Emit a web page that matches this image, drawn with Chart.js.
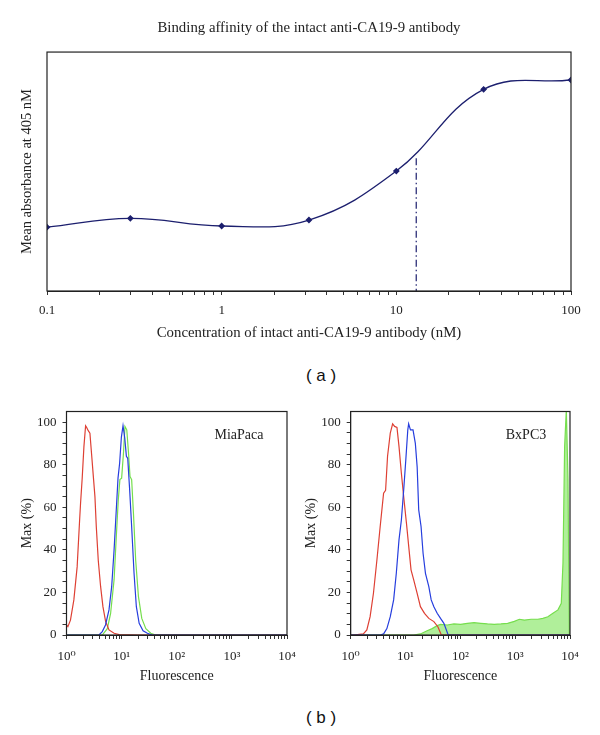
<!DOCTYPE html>
<html>
<head>
<meta charset="utf-8">
<script src="https://cdn.jsdelivr.net/npm/chart.js@4.4.1/dist/chart.umd.min.js"></script>
<style>
  body { margin: 0; background: #fff; }
  .box { position: absolute; }
  .panel-label { position: absolute; left: 0; width: 642px; text-align: center;
    font: 17px 'Liberation Sans', Arial, sans-serif; color: #111; line-height: 22px; }
</style>
</head>
<body>
<div class="box" style="left:0;top:0"><canvas id="bindingChart" width="600" height="350"></canvas></div>
<div class="panel-label" style="top:365px">( a )</div>
<div class="box" style="left:0;top:385px"><canvas id="miaPacaChart" width="300" height="310"></canvas></div>
<div class="box" style="left:300px;top:385px"><canvas id="bxpc3Chart" width="300" height="310"></canvas></div>
<div class="panel-label" style="top:707px">( b )</div>
<script>
// (a) binding curve
const concentration = [0.1, 0.3, 1, 3.16, 10, 31.6, 100];
const absorbance = [0.267, 0.304, 0.272, 0.297, 0.502, 0.844, 0.883];
const ec50X = [13, 13];
const ec50Y = [0.556, 0];
const decadesA = [0.1, 1, 10, 100];

// (b) MiaPaca histograms
const miaRedX = [1, 1.06, 1.18, 1.36, 1.56, 1.73, 1.8, 1.93, 2.07, 2.22, 2.31, 2.48, 2.66, 2.85, 3.1, 3.28, 3.47, 3.77, 4.16, 4.58, 5.13, 5.9, 7.3, 9.0, 20, 10000];
const miaRedY = [4.7, 3.9, 7, 16.5, 32, 54, 62, 74, 88.5, 98.3, 97.6, 96, 94.8, 85, 73, 65, 51, 35, 22.7, 13.3, 6.3, 2.4, 0.8, 0.2, 0, 0];
const miaBlueX = [1, 3.88, 4.46, 5.1, 5.9, 6.6, 7.3, 8.0, 8.6, 9.2, 9.9, 10.6, 11.4, 12.2, 12.9, 14.0, 15.2, 16.8, 18.5, 20.8, 24.5, 29.3, 36, 10000];
const miaBlueY = [0, 0, 1.6, 4.7, 11.8, 22.7, 40, 58.8, 73.7, 80.7, 93, 98.3, 92.5, 83.9, 83, 68, 51, 29, 13.3, 5.5, 2, 0.8, 0, 0];
const miaGreenX = [1, 4.46, 5.5, 6.3, 7.3, 8.0, 8.7, 9.3, 10.0, 10.8, 11.5, 12.4, 13.3, 14.2, 15.2, 16.4, 18, 20.2, 23.2, 27.5, 33.8, 41.5, 10000];
const miaGreenY = [0, 0, 3, 10, 26, 46, 63.5, 73, 73.7, 85.4, 98, 96.4, 86, 74.5, 73, 57, 35, 18, 7.8, 3, 0.8, 0, 0];

// (b) BxPC3 histograms
const bxRedX = [1, 1.12, 1.7, 1.97, 2.26, 2.6, 3.0, 3.45, 3.98, 4.33, 4.7, 5.27, 5.82, 6.33, 6.98, 7.6, 8.4, 9.25, 10.4, 11.6, 12.6, 14.1, 16.3, 18.7, 22.2, 26.6, 32.9, 38.9, 45, 10000];
const bxRedY = [0, 0, 0.5, 2.4, 8.6, 19.6, 35, 51, 66.6, 68, 84, 94.8, 99.2, 98, 97.5, 88.6, 76, 65, 52.5, 40, 30.6, 25.9, 19.6, 13.3, 10.2, 7.8, 6.3, 3.9, 0, 0];
const bxBlueX = [1, 3.45, 3.98, 4.57, 5.27, 6.07, 6.79, 7.6, 8.4, 9.25, 10.1, 11.0, 11.4, 12.3, 13.7, 15.1, 16.3, 17.4, 19.2, 20.9, 23.1, 26.6, 29.4, 32.9, 37.8, 43.5, 50.1, 60, 10000];
const bxBlueY = [0, 0, 0.5, 3, 8.6, 16.5, 29, 44.7, 54, 68, 82, 96.4, 99.2, 96.4, 96.4, 90, 79, 58.8, 51, 38.4, 29, 22.7, 16.5, 13.3, 10.2, 7.8, 5.5, 0, 0];
const bxGreenX = [1, 14.1, 18.7, 24.8, 30.6, 37.8, 43.5, 57.7, 76.5, 101, 134, 178, 236, 313, 415, 550, 728, 966, 1192, 1473, 1950, 2590, 3200, 3950, 4880, 6030, 6940, 7440, 7980, 8570, 9190, 9720, 10000];
const bxGreenY = [0, 0, 0.5, 2, 3, 4.4, 5, 4.7, 5.2, 5, 5.5, 5.8, 5.5, 5.2, 5, 5.2, 5.5, 6.4, 7.4, 7, 7.4, 7.4, 7.8, 8.6, 10.2, 11.8, 14.9, 33.7, 88.6, 106, 73, 0, 0];
const decadesB = [1, 10, 100, 1000, 10000];
const decadeLabelsB = ['10⁰', '10¹', '10²', '10³', '10⁴'];

const serif = "'Liberation Serif', 'DejaVu Serif', serif";
const textColor = '#222';

const toPoints = (xs, ys) => xs.map((x, i) => ({x: x, y: ys[i]}));

const logTicks = (decades) => {
    const values = [];
    for (let i = 0; i < decades.length - 1; i++) {
        for (let m = 1; m <= 9; m++) values.push(decades[i] * m);
    }
    values.push(decades[decades.length - 1]);
    return values;
};

const framePlugin = {
    id: 'frame',
    afterDatasetsDraw(chart) {
        const a = chart.chartArea;
        const ctx = chart.ctx;
        ctx.save();
        ctx.strokeStyle = '#222';
        ctx.lineWidth = 1.2;
        ctx.strokeRect(a.left, a.top, a.right - a.left, a.bottom - a.top);
        ctx.restore();
    }
};

const cornerLabel = {
    id: 'cornerLabel',
    afterDraw(chart, args, opts) {
        if (!opts.text) return;
        const ctx = chart.ctx;
        ctx.save();
        ctx.font = '14px ' + serif;
        ctx.fillStyle = textColor;
        ctx.textAlign = 'center';
        ctx.textBaseline = 'middle';
        ctx.fillText(opts.text, chart.chartArea.right - opts.dx, chart.chartArea.top + opts.dy);
        ctx.restore();
    }
};

const renderBindingChart = () => {
    const ctx = document.getElementById('bindingChart').getContext('2d');
    const ticksA = logTicks(decadesA);
    new Chart(ctx, {
        type: 'line',
        data: {
            datasets: [{
                data: toPoints(concentration, absorbance),
                borderColor: '#1c1f6e',
                backgroundColor: '#1c1f6e',
                borderWidth: 1.3,
                tension: 0.4,
                pointStyle: 'rectRot',
                pointRadius: 2.5,
            }, {
                data: toPoints(ec50X, ec50Y),
                borderColor: '#1c1f6e',
                borderWidth: 1.2,
                borderDash: [7, 3, 1.5, 3],
                pointRadius: 0,
                tension: 0,
            }],
        },
        options: {
            responsive: false,
            animation: false,
            layout: { padding: { left: 0, right: 29, top: 0, bottom: 0 } },
            plugins: {
                legend: { display: false },
                tooltip: { enabled: false },
                title: {
                    display: true,
                    fullSize: false,
                    text: 'Binding affinity of the intact anti-CA19-9 antibody',
                    color: textColor,
                    font: { family: serif, size: 14.8, weight: 'normal' },
                    padding: { top: 19.3, bottom: 15 },
                },
            },
            scales: {
                x: {
                    type: 'logarithmic',
                    min: 0.1,
                    max: 100,
                    afterBuildTicks: (axis) => { axis.ticks = ticksA.map(v => ({value: v})); },
                    afterFit: (scale) => { scale.height = 59; scale.paddingLeft = 0; scale.paddingRight = 0; },
                    ticks: {
                        autoSkip: false,
                        maxRotation: 0,
                        padding: 8,
                        color: textColor,
                        font: { family: serif, size: 13 },
                        callback: (v, i) => decadesA.includes(ticksA[i]) ? String(ticksA[i]) : '',
                    },
                    grid: { drawOnChartArea: false, tickLength: 4, color: '#333' },
                    border: { color: '#222' },
                    title: {
                        display: true,
                        text: 'Concentration of intact anti-CA19-9 antibody (nM)',
                        color: textColor,
                        font: { family: serif, size: 14.8 },
                        padding: { top: 0, bottom: 8.1 },
                    },
                },
                y: {
                    min: 0,
                    max: 1,
                    afterFit: (scale) => { scale.width = 47; },
                    ticks: { display: false },
                    grid: { display: false },
                    border: { display: false },
                    title: {
                        display: true,
                        text: 'Mean absorbance at 405 nM',
                        color: textColor,
                        font: { family: serif, size: 14.5 },
                        padding: { top: 18.3, bottom: 0 },
                    },
                },
            },
        },
        plugins: [framePlugin],
    });
};

const renderHistogram = (canvasId, datasets, label, yWidth, padRight, yTitlePad, labelDx) => {
    const ctx = document.getElementById(canvasId).getContext('2d');
    const ticksB = logTicks(decadesB);
    new Chart(ctx, {
        type: 'line',
        data: { datasets: datasets },
        options: {
            responsive: false,
            animation: false,
            layout: { padding: { left: 0, right: padRight, top: 26.5, bottom: 0 } },
            elements: { point: { radius: 0 }, line: { borderWidth: 1.2, tension: 0 } },
            plugins: {
                legend: { display: false },
                tooltip: { enabled: false },
                cornerLabel: { text: label, dx: labelDx, dy: 23.5 },
            },
            scales: {
                x: {
                    type: 'logarithmic',
                    min: 1,
                    max: 10000,
                    afterBuildTicks: (axis) => { axis.ticks = ticksB.map(v => ({value: v})); },
                    afterFit: (scale) => { scale.height = 60; scale.paddingLeft = 0; scale.paddingRight = 0; },
                    ticks: {
                        autoSkip: false,
                        maxRotation: 0,
                        padding: 10,
                        color: textColor,
                        font: { family: serif, size: 13 },
                        callback: (v, i) => {
                            const k = decadesB.indexOf(ticksB[i]);
                            return k >= 0 ? decadeLabelsB[k] : '';
                        },
                    },
                    grid: { drawOnChartArea: false, tickLength: 4, color: '#333' },
                    border: { color: '#222' },
                    title: {
                        display: true,
                        text: 'Fluorescence',
                        color: textColor,
                        font: { family: serif, size: 14 },
                        padding: { top: 0, bottom: 10.6 },
                    },
                },
                y: {
                    min: 0,
                    max: 105,
                    afterBuildTicks: (axis) => {
                        const vals = [];
                        for (let v = 0; v <= 100; v += 5) vals.push({value: v});
                        axis.ticks = vals;
                    },
                    afterFit: (scale) => { scale.width = yWidth; scale.paddingTop = 0; scale.paddingBottom = 0; },
                    ticks: {
                        autoSkip: false,
                        padding: 6,
                        color: textColor,
                        font: { family: serif, size: 13 },
                        callback: (v) => v % 20 === 0 ? String(v) : '',
                    },
                    grid: { drawOnChartArea: false, tickLength: 4, color: '#333' },
                    border: { color: '#222' },
                    title: {
                        display: true,
                        text: 'Max (%)',
                        color: textColor,
                        font: { family: serif, size: 14 },
                        padding: { top: yTitlePad, bottom: 0 },
                    },
                },
            },
        },
        plugins: [framePlugin, cornerLabel],
    });
};

const red = 'rgb(222, 64, 52)';
const blue = 'rgb(38, 62, 222)';
const green = 'rgb(118, 222, 78)';

window.addEventListener('load', () => {
    renderBindingChart();
    renderHistogram('miaPacaChart', [
        { data: toPoints(miaBlueX, miaBlueY), borderColor: blue },
        { data: toPoints(miaRedX, miaRedY), borderColor: red },
        { data: toPoints(miaGreenX, miaGreenY), borderColor: green },
    ], 'MiaPaca', 66.5, 13, 19.3, 48);
    renderHistogram('bxpc3Chart', [
        { data: toPoints(bxBlueX, bxBlueY), borderColor: blue },
        { data: toPoints(bxRedX, bxRedY), borderColor: red },
        { data: toPoints(bxGreenX, bxGreenY), borderColor: green, backgroundColor: 'rgba(150, 234, 120, 0.75)', fill: 'origin' },
    ], 'BxPC3', 50.7, 30, 3.3, 44);
});
</script>
</body>
</html>
